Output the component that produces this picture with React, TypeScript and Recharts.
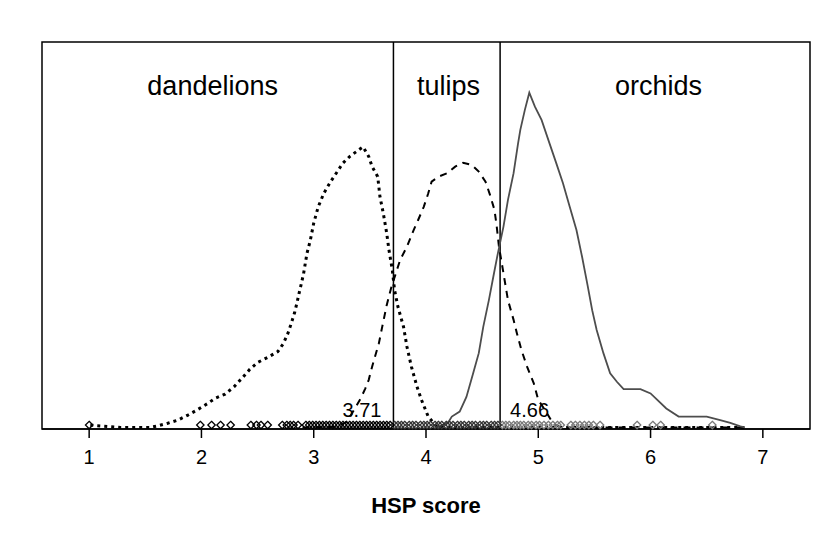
import React from 'react';
import {
  ComposedChart,
  Line,
  Scatter,
  XAxis,
  YAxis,
  ReferenceLine,
  ReferenceArea,
  ReferenceDot
} from 'recharts';

const FONT = '"Liberation Sans", Arial, Helvetica, sans-serif';

// density curves, x = HSP score, y = relative density (0..1 of the frame height)
const dandelionX = [1.01, 1.19, 1.28, 1.54, 1.61, 1.70, 1.79, 1.88, 1.96, 2.05, 2.12, 2.21, 2.29, 2.36, 2.43, 2.50, 2.59, 2.68, 2.73, 2.77, 2.80, 2.83, 2.85, 2.87, 2.89, 2.91, 2.94, 2.97, 3.00, 3.04, 3.09, 3.15, 3.21, 3.26, 3.32, 3.40, 3.44, 3.49, 3.52, 3.57, 3.59, 3.62, 3.65, 3.67, 3.70, 3.72, 3.75, 3.80, 3.83, 3.87, 3.92, 3.96, 4.02, 4.10, 5.00, 6.00, 6.85];
const dandelionY = [0.010, 0.006, 0.004, 0.004, 0.008, 0.015, 0.023, 0.036, 0.049, 0.065, 0.079, 0.090, 0.109, 0.131, 0.154, 0.172, 0.185, 0.200, 0.221, 0.247, 0.273, 0.301, 0.325, 0.351, 0.376, 0.402, 0.454, 0.488, 0.532, 0.574, 0.609, 0.639, 0.665, 0.687, 0.704, 0.721, 0.729, 0.704, 0.678, 0.652, 0.600, 0.557, 0.506, 0.463, 0.411, 0.359, 0.316, 0.264, 0.213, 0.161, 0.109, 0.075, 0.032, 0.004, 0.004, 0.004, 0.004];

const tulipX = [2.90, 3.22, 3.30, 3.35, 3.42, 3.46, 3.49, 3.52, 3.55, 3.58, 3.61, 3.65, 3.69, 3.71, 3.77, 3.83, 3.89, 3.93, 3.98, 4.02, 4.05, 4.11, 4.19, 4.26, 4.33, 4.41, 4.47, 4.53, 4.57, 4.61, 4.63, 4.65, 4.67, 4.70, 4.73, 4.78, 4.81, 4.85, 4.90, 4.96, 5.00, 5.06, 5.13, 5.20, 6.00, 6.85];
const tulipY = [0.004, 0.006, 0.020, 0.045, 0.080, 0.105, 0.127, 0.161, 0.191, 0.221, 0.264, 0.320, 0.365, 0.383, 0.437, 0.471, 0.514, 0.540, 0.574, 0.609, 0.639, 0.652, 0.661, 0.678, 0.688, 0.682, 0.665, 0.639, 0.605, 0.566, 0.523, 0.471, 0.437, 0.385, 0.333, 0.282, 0.247, 0.204, 0.161, 0.118, 0.075, 0.049, 0.015, 0.004, 0.004, 0.004];

const orchidX = [4.10, 4.20, 4.23, 4.30, 4.36, 4.42, 4.47, 4.51, 4.56, 4.60, 4.64, 4.69, 4.73, 4.78, 4.82, 4.84, 4.88, 4.92, 4.97, 5.03, 5.10, 5.16, 5.22, 5.28, 5.34, 5.39, 5.44, 5.48, 5.52, 5.58, 5.64, 5.70, 5.76, 5.91, 6.00, 6.06, 6.14, 6.25, 6.50, 6.62, 6.71, 6.80, 6.84];
const orchidY = [0.004, 0.018, 0.032, 0.045, 0.083, 0.144, 0.196, 0.264, 0.333, 0.394, 0.454, 0.523, 0.592, 0.661, 0.738, 0.773, 0.824, 0.869, 0.833, 0.798, 0.738, 0.687, 0.635, 0.574, 0.514, 0.445, 0.370, 0.307, 0.256, 0.196, 0.144, 0.122, 0.103, 0.103, 0.092, 0.075, 0.053, 0.032, 0.032, 0.023, 0.016, 0.007, 0.004];

// individual scores drawn as open diamonds along the bottom
const dandelionScores = [1.00, 1.99, 2.09, 2.17, 2.26, 2.44, 2.49, 2.53, 2.59, 2.72, 2.76, 2.79, 2.82, 2.86, 2.93, 2.96, 2.99, 3.02, 3.05, 3.08, 3.11, 3.14, 3.17, 3.20, 3.23, 3.26, 3.29, 3.32, 3.35, 3.38, 3.41, 3.44, 3.47, 3.50, 3.53, 3.56, 3.59, 3.62, 3.65, 3.68];
const tulipScores = [3.72, 3.75, 3.78, 3.81, 3.85, 3.88, 3.91, 3.95, 3.98, 4.01, 4.04, 4.08, 4.11, 4.14, 4.18, 4.21, 4.24, 4.28, 4.31, 4.34, 4.38, 4.41, 4.44, 4.48, 4.51, 4.54, 4.58, 4.61, 4.64];
const orchidScores = [4.68, 4.71, 4.74, 4.78, 4.81, 4.84, 4.87, 4.91, 4.94, 4.98, 5.01, 5.05, 5.09, 5.13, 5.17, 5.20, 5.29, 5.33, 5.37, 5.41, 5.45, 5.49, 5.55, 5.88, 6.02, 6.09, 6.55];
const RUG_Y = 0.0103;

const cutoffs = [3.71, 4.66];
const regionNames = ['dandelions', 'tulips', 'orchids'];
const regionCenters = [2.10, 4.20, 6.07];
const xTicks = [1, 2, 3, 4, 5, 6, 7];
const X_DOMAIN: [number, number] = [0.58, 7.42];

const zip = (xs: number[], ys: number[]) => xs.map((x, i) => ({ x, y: ys[i] }));
const rug = (xs: number[]) => xs.map(x => ({ x, y: RUG_Y }));

const dandelionData = zip(dandelionX, dandelionY);
const tulipData = zip(tulipX, tulipY);
const orchidData = zip(orchidX, orchidY);

const diamond = (color: string) => (props: any) => {
  const { cx, cy } = props;
  if (cx == null || cy == null) return <g />;
  const r = 3.7;
  return (
    <polygon
      points={`${cx},${cy - r} ${cx + r},${cy} ${cx},${cy + r} ${cx - r},${cy}`}
      fill="none"
      stroke={color}
      strokeWidth={1.3}
    />
  );
};

const cutoffLabel = (value: number, side: 'left' | 'right') => (props: any) => {
  const vb = props.viewBox || {};
  const x = side === 'left' ? vb.x - 12 : vb.x + 10;
  return (
    <text
      x={x}
      y={vb.y + vb.height - 12}
      textAnchor={side === 'left' ? 'end' : 'start'}
      fontSize={20}
      fontFamily={FONT}
      fill="#000"
    >
      {value.toFixed(2)}
    </text>
  );
};

const axisTitle = (props: any) => {
  const vb = props.viewBox || {};
  return (
    <text
      x={vb.x + vb.width / 2}
      y={vb.y + 84}
      textAnchor="middle"
      fontSize={22}
      fontWeight="bold"
      fontFamily={FONT}
      fill="#000"
    >
      HSP score
    </text>
  );
};

export default function App() {
  return (
    <div style={{ position: 'relative', width: 823, height: 526 }}>
      <div
        style={{
          position: 'absolute',
          left: -7,
          top: -6,
          width: 836,
          height: 537,
          border: '1px solid #cfcfcf',
          boxSizing: 'border-box',
          pointerEvents: 'none'
        }}
      />
      <ComposedChart
        width={823}
        height={526}
        margin={{ top: 34, right: 21, left: 34, bottom: 15 }}
        style={{ fontFamily: FONT }}
      >
        <XAxis
          dataKey="x"
          type="number"
          domain={X_DOMAIN}
          ticks={xTicks}
          height={90}
          tickSize={9}
          tickMargin={12}
          axisLine={{ stroke: '#000', strokeWidth: 1.5 }}
          tickLine={{ stroke: '#000', strokeWidth: 1.5 }}
          tick={{ fontSize: 20, fill: '#000', fontFamily: FONT }}
          label={{ content: axisTitle }}
        />
        <YAxis type="number" domain={[0, 1]} hide />

        <ReferenceArea
          x1={X_DOMAIN[0]}
          x2={X_DOMAIN[1]}
          y1={0}
          y2={1}
          fill="none"
          stroke="#000"
          strokeWidth={1.5}
          fillOpacity={0}
        />

        {regionNames.map((name, i) => (
          <ReferenceDot
            key={name}
            x={regionCenters[i]}
            y={0.888}
            r={1}
            fill="none"
            stroke="none"
            label={{
              value: name,
              position: 'center',
              fontSize: 27,
              fill: '#000',
              fontFamily: FONT
            }}
          />
        ))}

        <ReferenceLine
          x={cutoffs[0]}
          stroke="#000"
          strokeWidth={1.5}
          label={cutoffLabel(cutoffs[0], 'left')}
        />
        <ReferenceLine
          x={cutoffs[1]}
          stroke="#000"
          strokeWidth={1.5}
          label={cutoffLabel(cutoffs[1], 'right')}
        />

        <Scatter data={rug(orchidScores)} dataKey="y" shape={diamond('#7a7a7a')} isAnimationActive={false} />
        <Scatter data={rug(tulipScores)} dataKey="y" shape={diamond('#333')} isAnimationActive={false} />
        <Scatter data={rug(dandelionScores)} dataKey="y" shape={diamond('#000')} isAnimationActive={false} />

        <Line
          data={dandelionData}
          dataKey="y"
          type="linear"
          stroke="#000"
          strokeWidth={3}
          strokeDasharray="3 4"
          dot={false}
          activeDot={false}
          isAnimationActive={false}
        />
        <Line
          data={tulipData}
          dataKey="y"
          type="linear"
          stroke="#000"
          strokeWidth={2}
          strokeDasharray="7 6"
          dot={false}
          activeDot={false}
          isAnimationActive={false}
        />
        <Line
          data={orchidData}
          dataKey="y"
          type="linear"
          stroke="#4d4d4d"
          strokeWidth={1.8}
          dot={false}
          activeDot={false}
          isAnimationActive={false}
        />
      </ComposedChart>
    </div>
  );
}
